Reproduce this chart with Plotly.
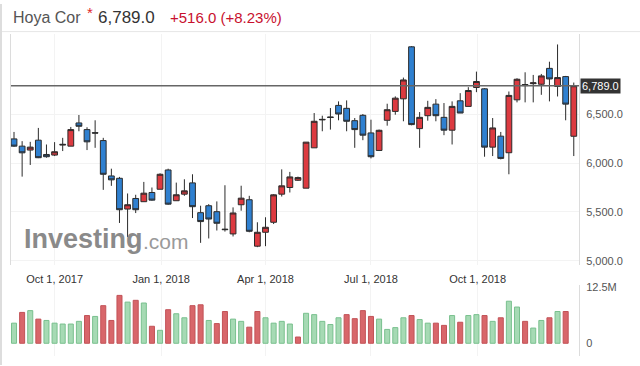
import pandas as pd
import plotly.graph_objects as go

# ---------------- data ----------------
dates = pd.date_range("2017-08-27", periods=70, freq="7D")

opens = [6246, 6172, 6132, 6233, 6087, 6081, 6183, 6172, 6409, 6341,
         6310, 6229, 5868, 5844, 5530, 5638, 5605, 5699, 5732, 5929,
         5615, 5682, 5797, 5493, 5564, 5503, 5325, 5276, 5574, 5625,
         5151, 5293, 5395, 5682, 5750, 5824, 5743, 6155, 6440, 6470,
         6588, 6558, 6432, 6487, 6307, 6128, 6436, 6527, 6655, 7186,
         6351, 6483, 6601, 6466, 6335, 6635, 6578, 6771, 6757, 6162,
         6274, 6105, 6645, 6790, 6810, 6804, 6966, 6781, 6882, 6273]
highs = [6317, 6223, 6216, 6358, 6189, 6213, 6257, 6368, 6490, 6365,
         6436, 6257, 5942, 5858, 5689, 5676, 5807, 5750, 5895, 5942,
         5800, 5834, 5885, 5564, 5580, 5608, 5773, 5547, 5768, 5665,
         5395, 5446, 5682, 5935, 5909, 5861, 6213, 6510, 6483, 6561,
         6629, 6639, 6459, 6500, 6442, 6341, 6605, 6680, 6872, 7193,
         6520, 6635, 6652, 6612, 6629, 6713, 6774, 6933, 6764, 6459,
         6317, 6730, 6865, 6926, 6899, 6909, 7034, 7210, 6889, 6821]
lows = [6165, 5861, 5980, 6050, 6054, 6071, 6122, 6172, 6324, 6132,
        6155, 5726, 5767, 5388, 5243, 5489, 5605, 5615, 5732, 5574,
        5615, 5665, 5438, 5185, 5230, 5311, 5300, 5250, 5513, 5293,
        5141, 5151, 5377, 5658, 5699, 5817, 5743, 6155, 6324, 6341,
        6436, 6324, 6155, 6233, 6047, 6122, 6381, 6493, 6426, 6385,
        6155, 6432, 6426, 6284, 6189, 6510, 6578, 6723, 6064, 6071,
        6037, 5885, 6619, 6619, 6619, 6696, 6629, 6679, 6436, 6071]
closes = [6172, 6104, 6162, 6054, 6064, 6115, 6190, 6341, 6375, 6216,
          6305, 5885, 5828, 5523, 5574, 5523, 5692, 5621, 5885, 5580,
          5676, 5716, 5554, 5402, 5428, 5385, 5320, 5490, 5641, 5303,
          5293, 5344, 5675, 5767, 5858, 5851, 6213, 6426, 6445, 6465,
          6500, 6426, 6341, 6284, 6064, 6334, 6544, 6662, 6848, 6392,
          6466, 6568, 6483, 6335, 6578, 6510, 6740, 6832, 6162, 6358,
          6047, 6690, 6855, 6800, 6818, 6889, 6858, 6872, 6601, 6789]

volumes_m = [4.5, 6.9, 7.3, 5.4, 5.1, 4.5, 4.3, 4.3, 4.9, 6.2,
             6.0, 8.4, 5.1, 10.7, 9.2, 9.6, 9.0, 3.8, 2.9, 7.5,
             6.6, 5.7, 8.4, 8.6, 5.1, 4.4, 7.1, 5.4, 4.9, 3.6,
             7.1, 5.7, 4.5, 4.9, 4.3, 1.4, 6.7, 6.4, 4.9, 4.2,
             5.7, 6.4, 5.5, 7.3, 6.0, 5.4, 3.1, 3.5, 5.7, 6.2,
             5.3, 4.5, 4.5, 4.0, 6.2, 4.7, 6.2, 6.4, 6.2, 4.9,
             5.7, 9.4, 8.1, 4.9, 3.4, 5.1, 5.7, 7.1, 7.1, None]
volume_dir = list("GRGRGGGGGRGRRRGRGRGRGGRRGRRGGRRGGGGRGG"
                  "GGGRRRRGGGGRGGRRGRGGRGRGGRGGRGR") + ["G"]

price_ticks = [5000, 5500, 6000, 6500]
price_tick_text = ["5,000.0", "5,500.0", "6,000.0", "6,500.0"]
date_ticks = ["2017-10-01", "2018-01-01", "2018-04-01", "2018-07-01", "2018-10-01"]
date_tick_text = ["Oct 1, 2017", "Jan 1, 2018", "Apr 1, 2018", "Jul 1, 2018", "Oct 1, 2018"]
vol_ticks = [0, 12.5e6]
vol_tick_text = ["0", "12.5M"]

title_name = "Hoya Cor"
last_price_text = "6,789.0"
change_text = "+516.0 (+8.23%)"

# ---------------- figure ----------------
W, H = 640, 366
FONT = "Liberation Sans, Arial, sans-serif"

fig = go.Figure()

fig.add_trace(go.Candlestick(
    x=dates, open=opens, high=highs, low=lows, close=closes,
    increasing=dict(line=dict(color="#2b2b2b", width=1), fillcolor="#dc3a40"),
    decreasing=dict(line=dict(color="#2b2b2b", width=1), fillcolor="#2f80d0"),
    whiskerwidth=0, xaxis="x", yaxis="y", hoverinfo="skip",
))

vol_fill = ["#a6dab4" if d == "G" else "#d8666a" for d in volume_dir]
vol_line = ["#79c08e" if d == "G" else "#c25257" for d in volume_dir]
fig.add_trace(go.Bar(
    x=dates, y=[None if v is None else v * 1e6 for v in volumes_m],
    marker=dict(color=vol_fill, line=dict(color=vol_line, width=1)),
    width=0.62 * 7 * 24 * 3600 * 1000,
    xaxis="x2", yaxis="y2", hoverinfo="skip",
))

day = pd.Timedelta(days=1)
x_range = [dates[0] - 2.6 * day, dates[0] + 487.5 * day]
x_dom = [11 / W, 579 / W]

fig.update_layout(
    width=W, height=H, margin=dict(l=0, r=0, t=0, b=0),
    paper_bgcolor="white", plot_bgcolor="white",
    showlegend=False, boxgap=0.05, boxgroupgap=0.25,
    font=dict(family=FONT, color="#444", size=11),
    xaxis=dict(domain=x_dom, range=x_range, rangeslider=dict(visible=False),
               tickvals=date_ticks, ticktext=date_tick_text,
               showgrid=True, gridcolor="#f3f3f3", zeroline=False,
               tickfont=dict(size=11, color="#333"), ticks="outside",
               ticklen=3, tickcolor="white", anchor="y",
               showline=False),
    yaxis=dict(domain=[1 - 265 / H, 1 - 30 / H], range=[4955, 7321],
               side="right", tickvals=price_ticks, ticktext=price_tick_text,
               showgrid=True, gridcolor="#f3f3f3", zeroline=False,
               tickfont=dict(size=11, color="#555"), ticks="outside",
               ticklen=4, tickcolor="white", anchor="x",
               showline=True, linecolor="#dcdcdc", linewidth=1, mirror=True),
    xaxis2=dict(domain=x_dom, range=x_range, matches="x",
                tickvals=date_ticks, showticklabels=False,
                showgrid=True, gridcolor="#f3f3f3", zeroline=False, anchor="y2"),
    yaxis2=dict(domain=[1 - 357 / H, 1 - 285 / H], range=[-2.87e6, 13.0e6],
                side="right", tickvals=vol_ticks, ticktext=vol_tick_text,
                showgrid=False, zeroline=False,
                tickfont=dict(size=11, color="#555"), ticks="outside",
                ticklen=4, tickcolor="white", anchor="x2",
                showline=True, linecolor="#dcdcdc", linewidth=1),
)

last_close = closes[-1]
fig.add_hline(y=last_close, line=dict(color="#666", width=1.5), xref="x", yref="y")

fig.add_annotation(
    xref="paper", yref="y", x=580 / W, y=last_close, xanchor="left", yanchor="middle",
    text=last_price_text, showarrow=False, bgcolor="#333", borderpad=1,
    font=dict(color="white", size=11, family=FONT),
)

# header
fig.add_annotation(xref="paper", yref="paper", x=11 / W, y=1 - 14 / H,
                   xanchor="left", yanchor="middle", showarrow=False,
                   text=title_name, font=dict(size=16, color="#555", family=FONT))
fig.add_annotation(xref="paper", yref="paper", x=85 / W, y=1 - 9 / H,
                   xanchor="left", yanchor="middle", showarrow=False,
                   text="*", font=dict(size=15, color="#e0262b", family=FONT))
fig.add_annotation(xref="paper", yref="paper", x=96 / W, y=1 - 14 / H,
                   xanchor="left", yanchor="middle", showarrow=False,
                   text=last_price_text, font=dict(size=17, color="#333", family=FONT))
fig.add_annotation(xref="paper", yref="paper", x=168 / W, y=1 - 14 / H,
                   xanchor="left", yanchor="middle", showarrow=False,
                   text=change_text, font=dict(size=15, color="#c8102e", family=FONT))

# watermark
fig.add_annotation(xref="paper", yref="paper", x=22 / W, y=1 - 238 / H,
                   xanchor="left", yanchor="middle", showarrow=False,
                   text="<b>Investing</b>", font=dict(size=27, color="#8a8a8a", family=FONT))
fig.add_annotation(xref="paper", yref="paper", x=141 / W, y=1 - 241 / H,
                   xanchor="left", yanchor="middle", showarrow=False,
                   text=".com", font=dict(size=21, color="#9a9a9a", family=FONT))

# header separator and frame
fig.add_shape(type="line", xref="paper", yref="paper", x0=0, x1=1,
              y0=1 - 28 / H, y1=1 - 28 / H, line=dict(color="#e6e6e6", width=1))
fig.add_shape(type="line", xref="paper", yref="paper", x0=1 / W, x1=1 / W,
              y0=0, y1=1, line=dict(color="#dddddd", width=2))

fig.write_html(
    "out.html",
    config={"displayModeBar": False},
    post_script="document.body.style.margin='0';document.body.style.overflow='hidden';",
)
